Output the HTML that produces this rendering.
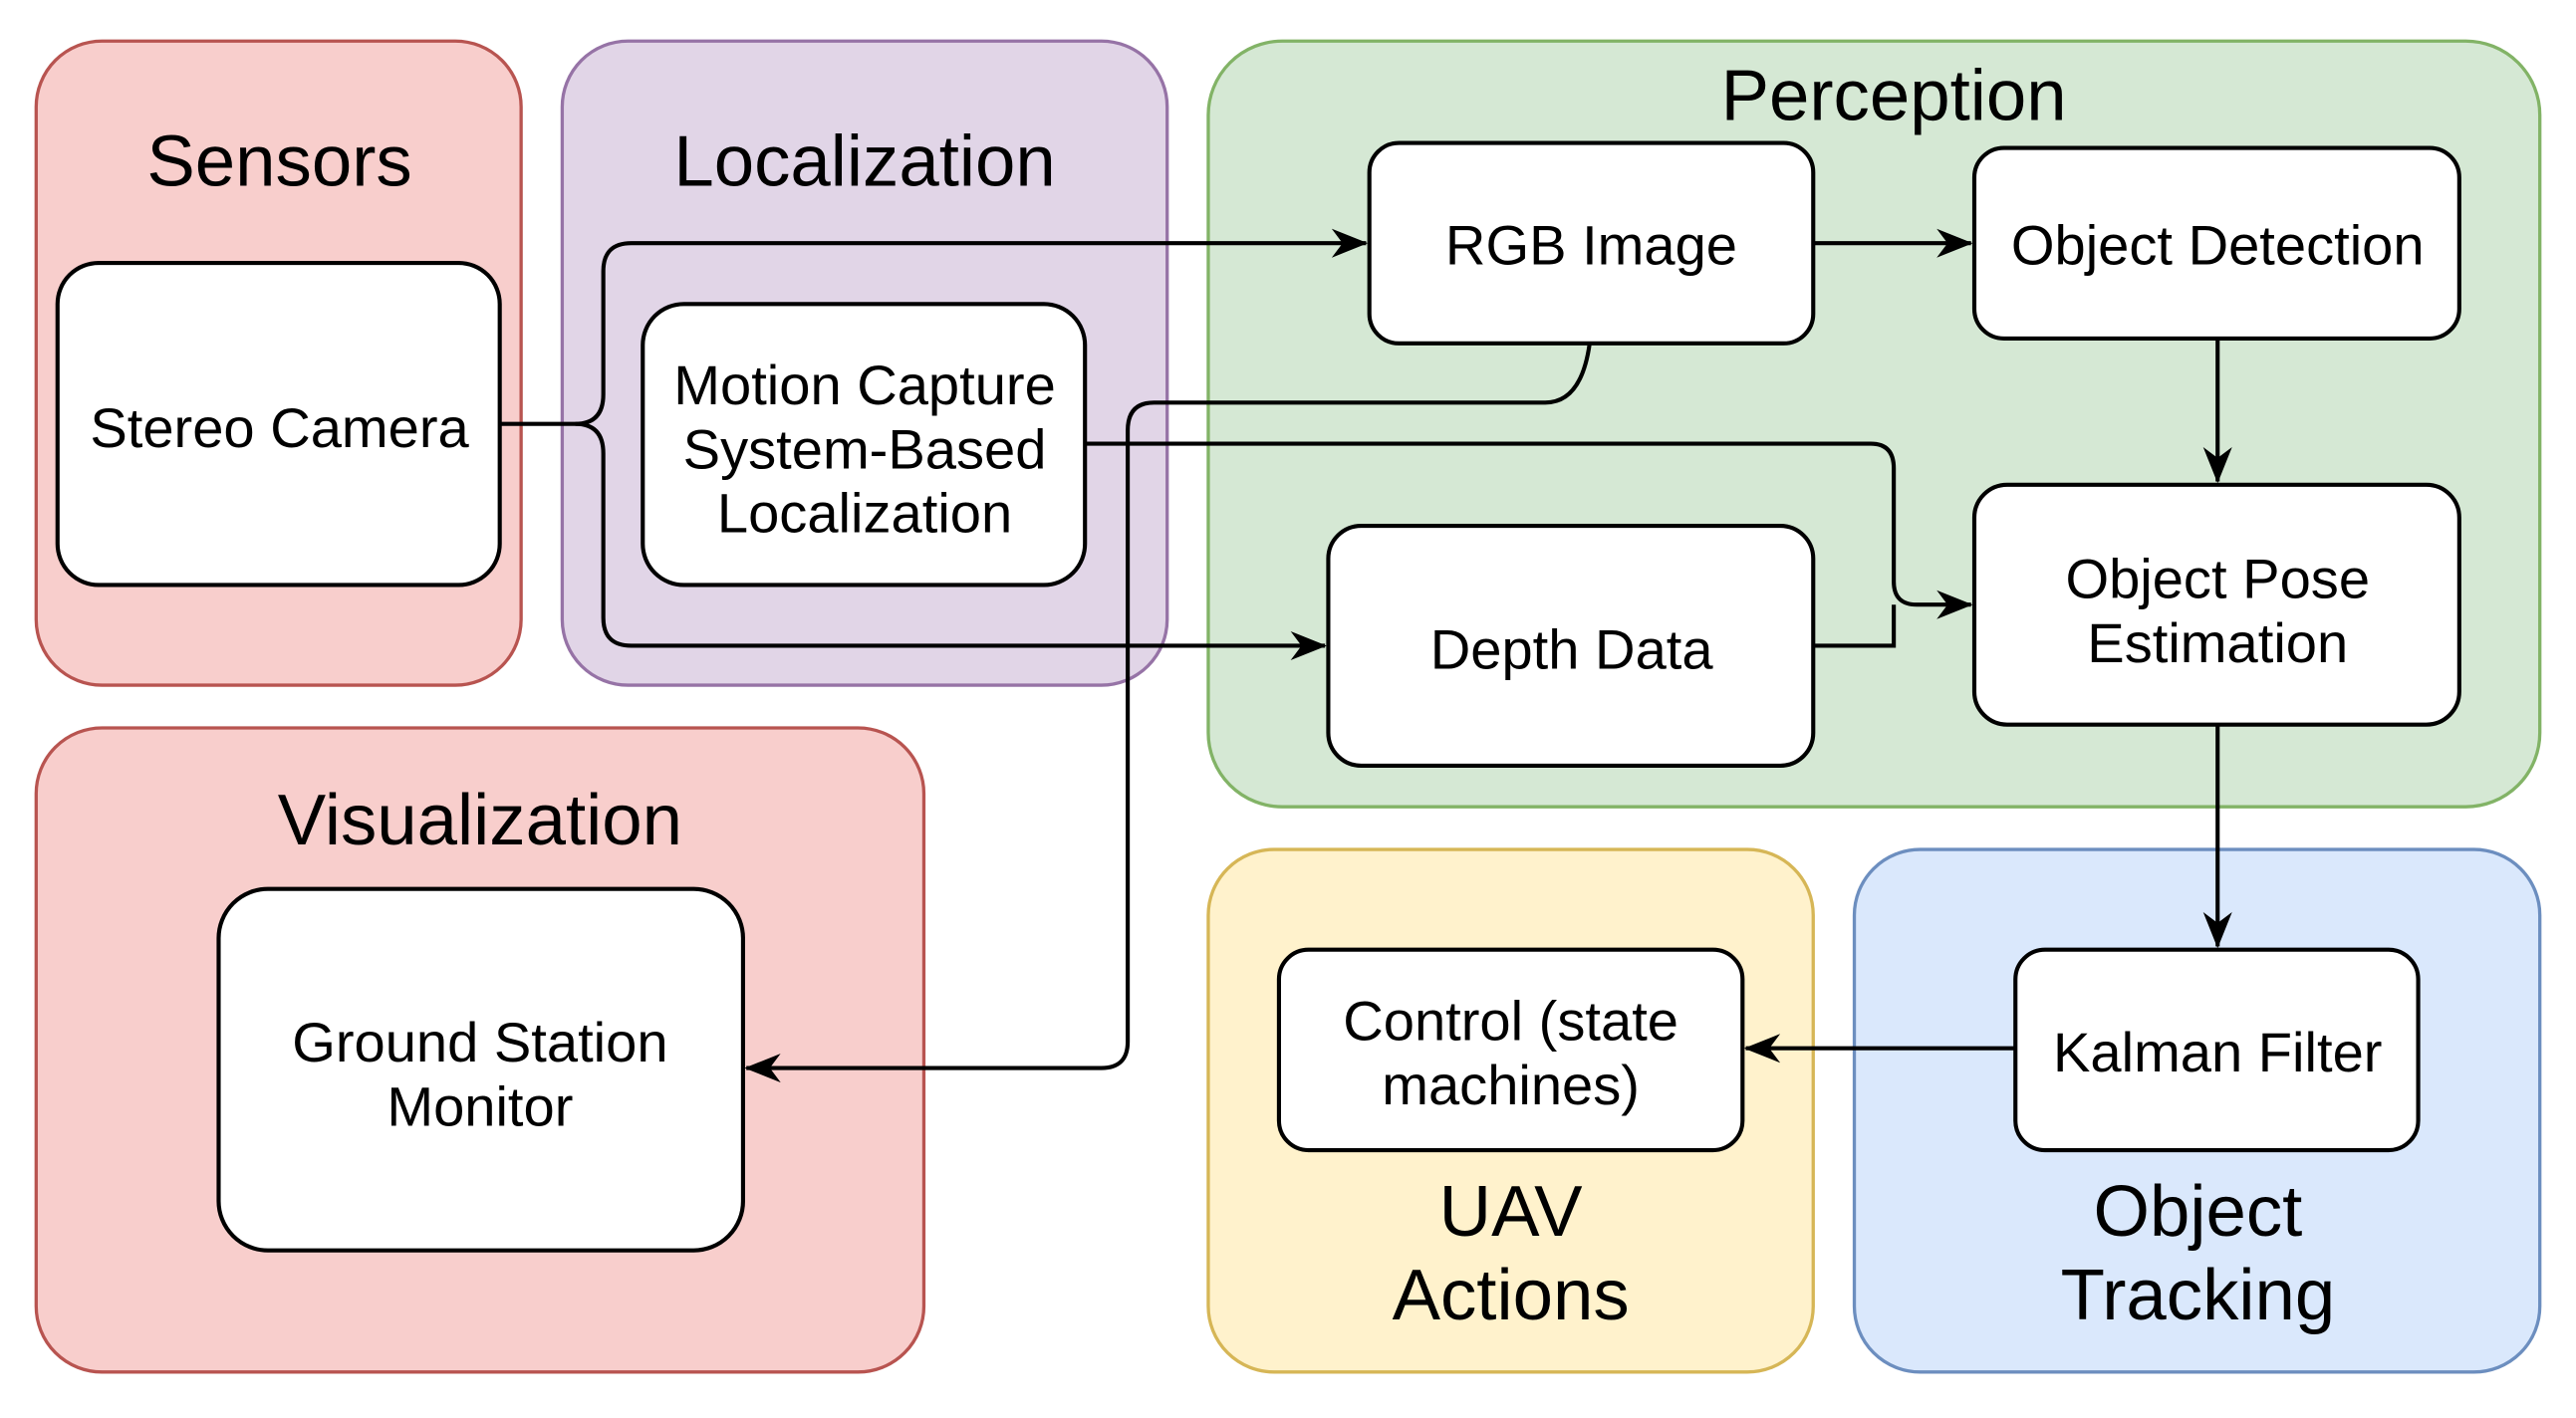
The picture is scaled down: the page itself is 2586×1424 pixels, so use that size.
<!DOCTYPE html>
<html><head><meta charset="utf-8"><style>
html,body{margin:0;padding:0;background:#fff;width:2586px;height:1424px;overflow:hidden}
svg{display:block}
text{font-family:"Liberation Sans",Arial,sans-serif;fill:#000;text-anchor:middle}
.t{font-size:44px}
.n{font-size:34px}
</style></head><body>
<svg width="2586" height="1424" viewBox="0 0 1567 863" preserveAspectRatio="none" xmlns="http://www.w3.org/2000/svg">
<defs>
<marker id="b" viewBox="0 0 20 20" markerWidth="22" markerHeight="22" refX="19" refY="10" orient="auto" markerUnits="userSpaceOnUse"><path d="M0,2 L20,10 L0,18 L6,10 Z" fill="#000"/></marker></defs>
<g stroke-width="2">
<rect x="22" y="25" width="295" height="392" rx="40" fill="#f8cecc" stroke="#b85450"/>
<rect x="342" y="25" width="368" height="392" rx="40" fill="#e1d5e7" stroke="#9673a6"/>
<rect x="735" y="25" width="810" height="466" rx="45" fill="#d5e8d4" stroke="#82b366"/>
<rect x="22" y="443" width="540" height="392" rx="40" fill="#f8cecc" stroke="#b85450"/>
<rect x="735" y="517" width="368" height="318" rx="40" fill="#fff2cc" stroke="#d6b656"/>
<rect x="1128" y="517" width="417" height="318" rx="40" fill="#dae8fc" stroke="#6c8ebf"/>
</g>
<text class="t" x="170" y="113">Sensors</text>
<text class="t" x="526" y="113">Localization</text>
<text class="t" x="1152" y="73">Perception</text>
<text class="t" x="292" y="514">Visualization</text>
<text class="t" x="919" y="752">UAV</text>
<text class="t" x="919" y="803">Actions</text>
<text class="t" x="1337" y="752">Object</text>
<text class="t" x="1337" y="803">Tracking</text>
<g fill="none" stroke="#000" stroke-width="2.5">
<path d="M304,258 H350 Q367,258 367,240 V165 Q367,148 384,148 H831" marker-end="url(#b)"/>
<path d="M350,258 Q367,258 367,276 V376 Q367,393 384,393 H806" marker-end="url(#b)"/>
<path d="M967,209 Q962,245 940,245 H702 Q686,245 686,262 V634 Q686,650 670,650 H454" marker-end="url(#b)"/>
<path d="M660,270 H1138 Q1152,270 1152,285 V354 Q1152,368 1166,368 H1199" marker-end="url(#b)"/>
<path d="M1103,393 H1152 V368"/>
<path d="M1103,148 H1199" marker-end="url(#b)"/>
<path d="M1349,206 V293" marker-end="url(#b)"/>
<path d="M1349,441 V576" marker-end="url(#b)"/>
<path d="M1226,638 H1062" marker-end="url(#b)"/>
</g>
<g fill="#fff" stroke="#000" stroke-width="2.5">
<rect x="35" y="160" width="269" height="196" rx="25"/>
<rect x="391" y="185" width="269" height="171" rx="25"/>
<rect x="833" y="87" width="270" height="122" rx="18"/>
<rect x="1201" y="90" width="295" height="116" rx="18"/>
<rect x="1201" y="295" width="295" height="146" rx="20"/>
<rect x="808" y="320" width="295" height="146" rx="20"/>
<rect x="133" y="541" width="319" height="220" rx="30"/>
<rect x="778" y="578" width="282" height="122" rx="18"/>
<rect x="1226" y="578" width="245" height="122" rx="18"/>
</g>
<text class="n" x="170" y="272">Stereo Camera</text>
<text class="n" x="526" y="246">Motion Capture</text>
<text class="n" x="526" y="285">System-Based</text>
<text class="n" x="526" y="324">Localization</text>
<text class="n" x="968" y="161">RGB Image</text>
<text class="n" x="1349" y="161">Object Detection</text>
<text class="n" x="1349" y="364">Object Pose</text>
<text class="n" x="1349" y="403">Estimation</text>
<text class="n" x="956" y="407">Depth Data</text>
<text class="n" x="292" y="646">Ground Station</text>
<text class="n" x="292" y="685">Monitor</text>
<text class="n" x="919" y="633">Control (state</text>
<text class="n" x="919" y="672">machines)</text>
<text class="n" x="1349" y="652">Kalman Filter</text>
</svg>
</body></html>
